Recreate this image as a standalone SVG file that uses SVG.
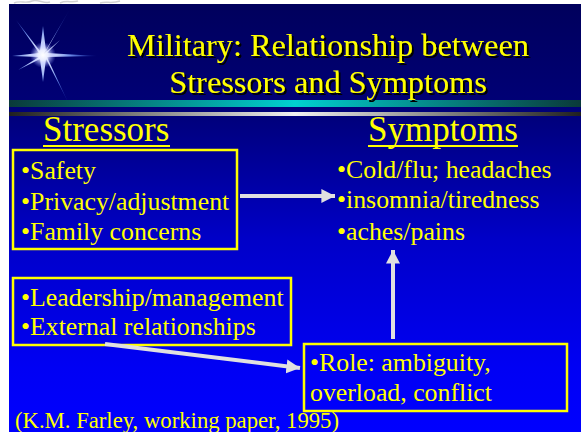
<svg xmlns="http://www.w3.org/2000/svg" width="581" height="432" viewBox="0 0 581 432">
  <defs>
    <linearGradient id="bg" x1="0" y1="4" x2="0" y2="432" gradientUnits="userSpaceOnUse">
      <stop offset="0" stop-color="#00005c"/>
      <stop offset="0.25" stop-color="#000078"/>
      <stop offset="0.55" stop-color="#0000c8"/>
      <stop offset="0.85" stop-color="#0000f4"/>
      <stop offset="1" stop-color="#0000ff"/>
    </linearGradient>
    <linearGradient id="tealBar" x1="0" y1="0" x2="1" y2="0">
      <stop offset="0" stop-color="#0a3a3a"/>
      <stop offset="0.5" stop-color="#00d0d0"/>
      <stop offset="1" stop-color="#0a3a3a"/>
    </linearGradient>
    <linearGradient id="greyBar" x1="0" y1="0" x2="1" y2="0">
      <stop offset="0" stop-color="#202020"/>
      <stop offset="0.5" stop-color="#f0f0f0"/>
      <stop offset="1" stop-color="#202020"/>
    </linearGradient>
    <radialGradient id="starGlow" cx="43" cy="55" r="55" gradientUnits="userSpaceOnUse">
      <stop offset="0" stop-color="#ffffff"/>
      <stop offset="0.15" stop-color="#dfe6ff"/>
      <stop offset="0.5" stop-color="#6a8ae8"/>
      <stop offset="1" stop-color="#2040c0" stop-opacity="0.2"/>
    </radialGradient>
    <radialGradient id="starCore" cx="0.5" cy="0.5" r="0.5">
      <stop offset="0" stop-color="#ffffff"/>
      <stop offset="0.4" stop-color="#e8ecff" stop-opacity="0.9"/>
      <stop offset="1" stop-color="#8090ff" stop-opacity="0"/>
    </radialGradient>
    <filter id="dropShadow" x="-5%" y="-20%" width="110%" height="140%">
      <feOffset in="SourceAlpha" dx="2" dy="2" result="off"/>
      <feFlood flood-color="#000000"/>
      <feComposite in2="off" operator="in" result="shadow"/>
      <feMerge>
        <feMergeNode in="shadow"/>
        <feMergeNode in="SourceGraphic"/>
      </feMerge>
    </filter>
    <marker id="arrow" markerWidth="4" markerHeight="4" refX="3.4" refY="2" orient="auto" markerUnits="strokeWidth">
      <path d="M0,0.25 L3.4,2 L0,3.75 Z" fill="#e0e0e0"/>
    </marker>
    <style>
      text { fill: #ffff00; }
      .title { font-size: 32.3px; text-anchor: middle; }
      .head { font-size: 35px; }
      .item { font-size: 25.8px; }
      .note { font-size: 22.7px; }
      .box { fill: none; stroke: #ffff00; stroke-width: 2.5; }
      .uline { stroke: #ffff00; stroke-width: 2; }
      .conn { fill: none; stroke: #e0e0e0; stroke-width: 4; marker-end: url(#arrow); }
    </style>
  </defs>

  <!-- page margin with faint scribble above the slide -->
  <rect width="581" height="432" fill="#ffffff"/>
  <g fill="none" stroke="#c8c8c8" stroke-width="1.5" opacity="0.8">
    <path d="M14,3 C20,0 26,4 32,1 C38,-1 44,4 50,2"/>
    <path d="M60,3 C66,0 72,3 78,1"/>
    <path d="M100,3 C106,1 112,4 120,1"/>
  </g>

  <!-- slide background -->
  <rect x="9" y="4" width="572" height="428" fill="url(#bg)"/>

  <!-- sparkle -->
  <g id="star">
    <polygon fill="url(#starGlow)" points="
      43,55 70,9 46,51 43,26 40,51 16,20 39,53 12,56 39,57 18,70 40,59 43,82 46,59 68,102 47,57 97,56 47,53 60,40 46,52"/>
    <circle cx="43" cy="55" r="13" fill="url(#starCore)"/>
  </g>

  <!-- title bars -->
  <rect x="9" y="100" width="572" height="7" fill="url(#tealBar)"/>
  <rect x="9" y="112" width="572" height="4" fill="url(#greyBar)"/>

  <g font-family="'Liberation Serif', 'Times New Roman', serif">
    <!-- title -->
    <g id="title" filter="url(#dropShadow)">
      <text class="title" x="328" y="56">Military: Relationship between</text>
      <text class="title" x="328" y="93">Stressors and Symptoms</text>
    </g>

    <!-- column headings -->
    <g id="heading-stressors">
      <text class="head" x="43" y="141">Stressors</text>
      <line class="uline" x1="43" y1="146" x2="170" y2="146"/>
    </g>
    <g id="heading-symptoms">
      <text class="head" x="368" y="141">Symptoms</text>
      <line class="uline" x1="368" y1="146" x2="518" y2="146"/>
    </g>

    <!-- stressor boxes -->
    <g id="stressors-personal">
      <rect class="box" x="13" y="150" width="224" height="99"/>
      <text class="item" x="21" y="179">•Safety</text>
      <text class="item" x="21" y="210">•Privacy/adjustment</text>
      <text class="item" x="21" y="240">•Family concerns</text>
    </g>
    <g id="stressors-organisational">
      <rect class="box" x="13" y="278" width="278" height="67"/>
      <text class="item" x="21" y="306">•Leadership/management</text>
      <text class="item" x="21" y="335">•External relationships</text>
    </g>
    <g id="role">
      <rect class="box" x="304" y="344" width="263" height="67"/>
      <text class="item" x="310" y="371">•Role: ambiguity,</text>
      <text class="item" x="310" y="401">overload, conflict</text>
    </g>

    <!-- symptoms -->
    <g id="symptoms">
      <text class="item" x="337" y="178">•Cold/flu; headaches</text>
      <text class="item" x="337" y="208">•insomnia/tiredness</text>
      <text class="item" x="337" y="240">•aches/pains</text>
    </g>

    <!-- source -->
    <text class="note" x="15" y="428">(K.M. Farley, working paper, 1995)</text>
  </g>

  <!-- connectors -->
  <g id="connectors">
    <line class="conn" x1="240" y1="196" x2="335" y2="196"/>
    <line class="conn" x1="393" y1="339" x2="393" y2="250"/>
    <line class="conn" x1="105" y1="344" x2="300" y2="368"/>
  </g>
</svg>
